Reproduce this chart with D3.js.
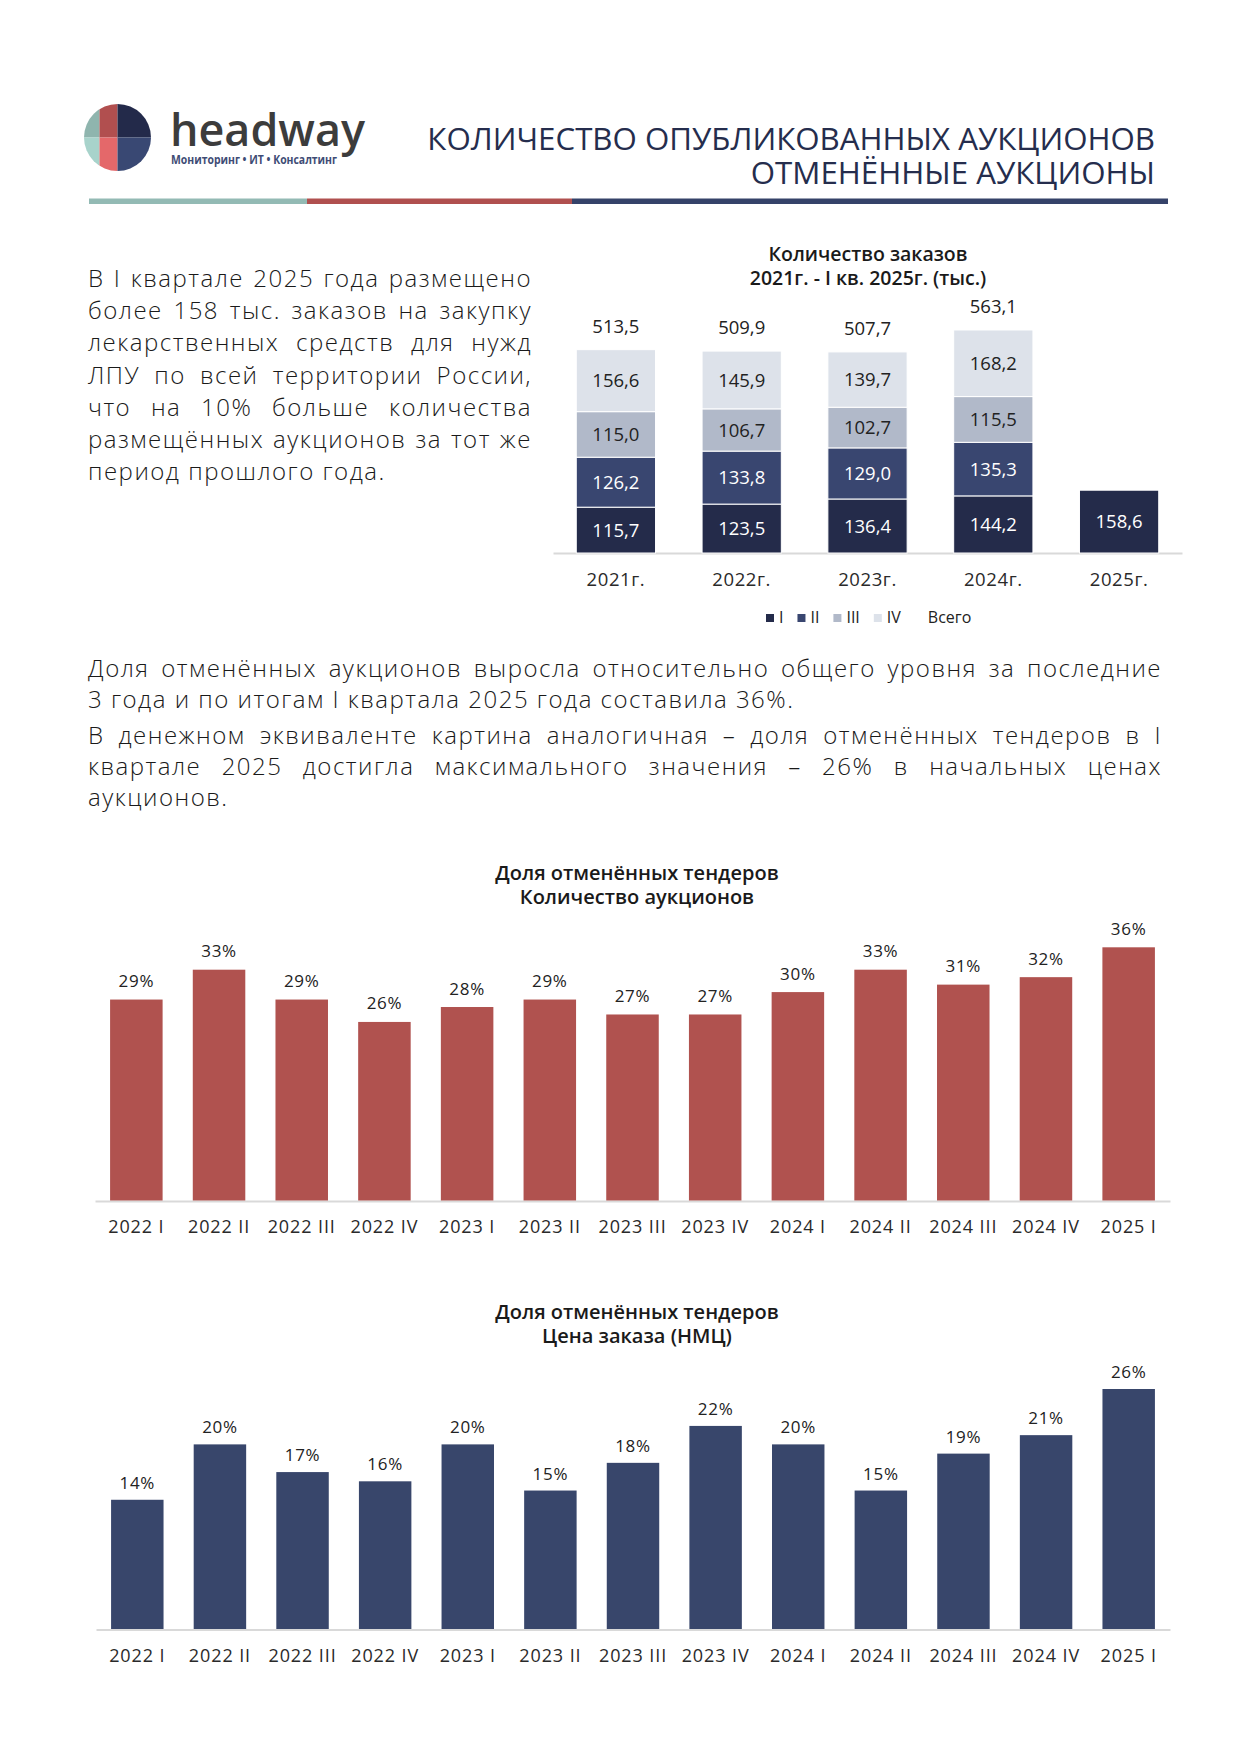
<!DOCTYPE html>
<html>
<head>
<meta charset="utf-8">
<script src="https://cdn.jsdelivr.net/npm/d3@7"></script>
<style>
  body { margin: 0; background: #fff; }
  svg { display: block; }
  text { font-family: 'Open Sans', Lato, sans-serif; }
</style>
</head>
<body>
<svg id="page"></svg>
<script>
// --- данные ---
const years = ['2021г.', '2022г.', '2023г.', '2024г.', '2025г.']
const q1 = [115.7, 123.5, 136.4, 144.2, 158.6]
const q2 = [126.2, 133.8, 129.0, 135.3, null]
const q3 = [115.0, 106.7, 102.7, 115.5, null]
const q4 = [156.6, 145.9, 139.7, 168.2, null]
const totals = [513.5, 509.9, 507.7, 563.1, null]
const legendNames = ['I', 'II', 'III', 'IV', 'Всего']

const quarters = ['2022 I', '2022 II', '2022 III', '2022 IV', '2023 I', '2023 II', '2023 III',
  '2023 IV', '2024 I', '2024 II', '2024 III', '2024 IV', '2025 I']
const shareCount = [29, 33, 29, 26, 28, 29, 27, 27, 30, 33, 31, 32, 36]
const sharePrice = [14, 20, 17, 16, 20, 15, 18, 22, 20, 15, 19, 21, 26]

const para1 = [
  'В I квартале 2025 года размещено',
  'более 158 тыс. заказов на закупку',
  'лекарственных средств для нужд',
  'ЛПУ по всей территории России,',
  'что на 10% больше количества',
  'размещённых аукционов за тот же',
  'период прошлого года.'
]
const para2 = [
  'Доля отменённых аукционов выросла относительно общего уровня за последние',
  '3 года и по итогам I квартала 2025 года составила 36%.'
]
const para3 = [
  'В денежном эквиваленте картина аналогичная – доля отменённых тендеров в I',
  'квартале 2025 достигла максимального значения – 26% в начальных ценах',
  'аукционов.'
]

const cSeg = ['#242b4a', '#394670', '#b1b9c9', '#dde2ea']
const cRed = '#b0524f'
const cNavy = '#38466b'
const ru = d3.formatLocale({ decimal: ',', thousands: ' ', grouping: [3], currency: ['', ''] })
const f1 = ru.format('.1f')

const svg = d3.select('#page').attr('width', 1240).attr('height', 1755)

// подогнать размер шрифта под ширину
function fitText(sel, width) {
  const w = sel.node().getComputedTextLength()
  const fs = +sel.attr('font-size')
  sel.attr('font-size', fs * width / w)
}

function draw() {
  // --- шапка: логотип ---
  const logo = svg.append('g')
  const cx = 117.5, cy = 137.5, r = 33.5
  logo.append('clipPath').attr('id', 'lc')
    .append('circle').attr('cx', cx).attr('cy', cy).attr('r', r)
  const parts = [
    [cx - r, cy - r, 99.5 - (cx - r), r, '#8fb5ae'],
    [cx - r, cy, 99.5 - (cx - r), r, '#a8d3cb'],
    [99.5, cy - r, cx - 99.5, r, '#b14f4f'],
    [99.5, cy, cx - 99.5, r, '#e4686a'],
    [cx, cy - r, r, r, '#232a4a'],
    [cx, cy, r, r, '#394873']
  ]
  logo.append('g').attr('clip-path', 'url(#lc)')
    .selectAll('rect').data(parts).join('rect')
    .attr('x', d => d[0]).attr('y', d => d[1])
    .attr('width', d => d[2]).attr('height', d => d[3]).attr('fill', d => d[4])

  logo.append('text').attr('x', 170).attr('y', 146)
    .attr('font-weight', 600)
    .attr('font-size', 46).attr('fill', '#3c3c3c')
    .attr('textLength', 195).attr('lengthAdjust', 'spacingAndGlyphs')
    .text('headway')
  logo.append('text').attr('x', 171).attr('y', 164)
    .attr('font-weight', 700)
    .attr('font-size', 11.5).attr('fill', '#3e4c75')
    .attr('textLength', 166).attr('lengthAdjust', 'spacingAndGlyphs')
    .text('Мониторинг • ИТ • Консалтинг')

  // --- заголовок ---
  const h1 = svg.append('text').attr('x', 1155).attr('y', 150).attr('text-anchor', 'end')
    .attr('font-size', 32).attr('fill', '#252d4d')
    .text('КОЛИЧЕСТВО ОПУБЛИКОВАННЫХ АУКЦИОНОВ')
  fitText(h1, 728)
  svg.append('text').attr('x', 1155).attr('y', 184).attr('text-anchor', 'end')
    .attr('font-size', h1.attr('font-size')).attr('fill', '#252d4d')
    .text('ОТМЕНЁННЫЕ АУКЦИОНЫ')

  const bands = [[89, 307, '#93bab4'], [307, 572, '#b0504f'], [572, 1168, '#354269']]
  svg.append('g').selectAll('rect').data(bands).join('rect')
    .attr('x', d => d[0]).attr('y', 198.5).attr('width', d => d[1] - d[0]).attr('height', 5.5)
    .attr('fill', d => d[2])

  // --- текст ---
  function justify(lines, x0, x1, y0, lh) {
    const g = svg.append('g').attr('font-size', 24).attr('font-weight', 300)
      .attr('letter-spacing', 1.5).attr('fill', '#1a1a1a')
    lines.forEach((line, li) => {
      const y = y0 + li * lh
      if (li === lines.length - 1) {
        g.append('text').attr('x', x0).attr('y', y).text(line)
        return
      }
      const words = line.split(' ')
      const t = g.append('text').attr('y', y)
      const spans = words.map(w => t.append('tspan').text(w))
      const widths = spans.map(s => s.node().getComputedTextLength())
      const gap = (x1 - x0 - d3.sum(widths)) / (words.length - 1)
      let x = x0
      spans.forEach((s, i) => { s.attr('x', x); x += widths[i] + gap })
    })
  }
  justify(para1, 88, 532, 287, 32.2)
  justify(para2, 88, 1162, 677, 31)
  justify(para3, 88, 1162, 744, 31)

  // --- график 1: количество заказов ---
  const table = years.map((y, i) => ({ year: y, I: q1[i] || 0, II: q2[i] || 0, III: q3[i] || 0, IV: q4[i] || 0, total: totals[i] }))
  const keys = ['I', 'II', 'III', 'IV']
  const stack = d3.stack().keys(keys)(table)

  const x1 = d3.scaleBand().domain(years).range([553, 1182]).paddingInner(0.37).paddingOuter(0.185)
  const y1 = d3.scaleLinear().domain([0, 600]).range([553, 553 - 237.6])

  const g1 = svg.append('g')
  g1.append('text').attr('x', 868).attr('y', 260.7).attr('text-anchor', 'middle')
    .attr('font-size', 19.5).attr('font-weight', 600).attr('fill', '#1a1a1a').text('Количество заказов')
  g1.append('text').attr('x', 868).attr('y', 285).attr('text-anchor', 'middle')
    .attr('font-size', 19.5).attr('font-weight', 600).attr('fill', '#1a1a1a').text('2021г. - I кв. 2025г. (тыс.)')

  g1.append('g').attr('transform', 'translate(0,553)')
    .call(d3.axisBottom(x1).tickSize(0).tickPadding(20))
    .call(a => a.select('.domain').attr('stroke', '#d9d9d9').attr('stroke-width', 2))
    .selectAll('text').attr('font-family', "'Open Sans', sans-serif").attr('font-size', 18.5)
    .attr('letter-spacing', 0.6).attr('fill', '#2a2a2a')

  stack.forEach((s, si) => {
    const grp = g1.append('g')
    grp.selectAll('rect').data(s.filter(d => d[1] > d[0])).join('rect')
      .attr('x', d => x1(d.data.year)).attr('width', x1.bandwidth())
      .attr('y', d => y1(d[1])).attr('height', d => y1(d[0]) - y1(d[1]))
      .attr('fill', cSeg[si]).attr('stroke', '#fff').attr('stroke-width', 1)
    grp.selectAll('text').data(s.filter(d => d[1] > d[0])).join('text')
      .attr('x', d => x1(d.data.year) + x1.bandwidth() / 2)
      .attr('y', d => (y1(d[0]) + y1(d[1])) / 2).attr('dy', '0.36em')
      .attr('text-anchor', 'middle').attr('font-size', 18.5)
      .attr('fill', si < 2 ? '#fff' : '#222')
      .text(d => f1(d[1] - d[0]))
  })

  g1.append('g').selectAll('text').data(table.filter(d => d.total != null)).join('text')
    .attr('x', d => x1(d.year) + x1.bandwidth() / 2)
    .attr('y', d => y1(d.I + d.II + d.III + d.IV) - 17)
    .attr('text-anchor', 'middle').attr('font-size', 18.5).attr('fill', '#222')
    .text(d => f1(d.total))

  // легенда
  const lg = g1.append('g').attr('font-size', 16).attr('fill', '#222')
  let lx = 766
  legendNames.forEach((n, i) => {
    if (i < 4) lg.append('rect').attr('x', lx).attr('y', 614).attr('width', 8).attr('height', 8).attr('fill', cSeg[i])
    lx += 13
    const t = lg.append('text').attr('x', lx).attr('y', 622.5).text(n)
    lx += t.node().getComputedTextLength() + 14
  })

  // --- графики долей ---
  function shareChart(values, color, xr, base, top, dom, t1, t2, ty, gapLbl, pad) {
    const g = svg.append('g')
    const x = d3.scaleBand().domain(quarters).range(xr).paddingInner(0.365).paddingOuter(0.1825)
    const y = d3.scaleLinear().domain(dom).range([base, top])
    g.append('text').attr('x', 637).attr('y', ty).attr('text-anchor', 'middle')
      .attr('font-size', 20).attr('font-weight', 600).attr('fill', '#1a1a1a').text(t1)
    g.append('text').attr('x', 637).attr('y', ty + 24).attr('text-anchor', 'middle')
      .attr('font-size', 20).attr('font-weight', 600).attr('fill', '#1a1a1a').text(t2)
    g.append('g').attr('transform', `translate(0,${base + 0.5})`)
      .call(d3.axisBottom(x).tickSize(0).tickPadding(pad))
      .call(a => a.select('.domain').attr('stroke', '#d9d9d9').attr('stroke-width', 2))
      .selectAll('text').attr('font-family', "'Open Sans', sans-serif").attr('font-size', 18)
      .attr('letter-spacing', 0.9).attr('fill', '#2a2a2a')
    g.append('g').selectAll('rect').data(values).join('rect')
      .attr('x', (d, i) => x(quarters[i])).attr('width', x.bandwidth())
      .attr('y', d => y(d)).attr('height', d => base - y(d)).attr('fill', color)
    g.append('g').selectAll('text').data(values).join('text')
      .attr('x', (d, i) => x(quarters[i]) + x.bandwidth() / 2)
      .attr('y', d => y(d) - gapLbl).attr('text-anchor', 'middle')
      .attr('font-size', 17).attr('letter-spacing', 0.7).attr('fill', '#222').text(d => d + '%')
  }
  shareChart(shareCount, cRed, [95, 1170], 1200.5, 947.3, [2.08, 36],
    'Доля отменённых тендеров', 'Количество аукционов', 880, 12.5, 19.5)
  shareChart(sharePrice, cNavy, [96, 1170], 1629, 1389, [0, 26],
    'Доля отменённых тендеров', 'Цена заказа (НМЦ)', 1319, 11, 20)
}

if (document.fonts && document.fonts.ready) document.fonts.ready.then(draw)
else draw()
</script>
</body>
</html>
